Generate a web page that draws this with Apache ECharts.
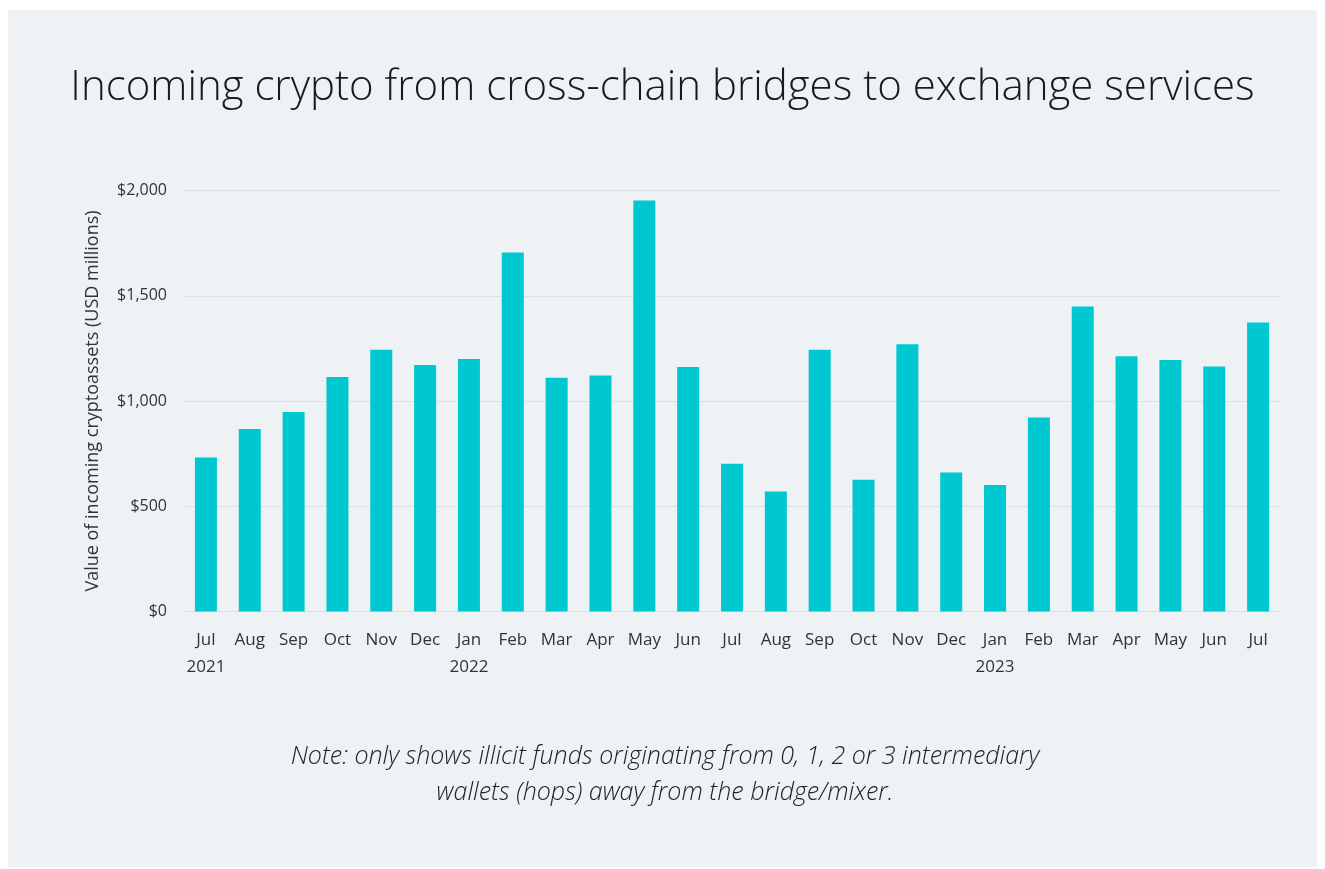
<!DOCTYPE html>
<html>
<head>
<meta charset="utf-8">
<script src="https://cdn.jsdelivr.net/npm/echarts@6/dist/echarts.min.js"></script>
<style>
  html, body { margin: 0; padding: 0; background: #ffffff; width: 1325px; height: 869px; overflow: hidden; }
  #chart { position: absolute; left: 8px; top: 10px; width: 1309px; height: 857px; background: #eef2f5; }
</style>
</head>
<body>
<div id="chart"></div>
<script>
const months = ['Jul','Aug','Sep','Oct','Nov','Dec','Jan','Feb','Mar','Apr','May','Jun',
                'Jul','Aug','Sep','Oct','Nov','Dec','Jan','Feb','Mar','Apr','May','Jun','Jul'];
const years = ['2021','','','','','','2022','','','','','',
               '','','','','','','2023','','','','','',''];
const values = [731, 867, 948, 1114, 1243, 1171, 1199, 1706, 1110, 1121, 1952, 1162,
                702, 570, 1243, 626, 1270, 660, 601, 922, 1449, 1213, 1195, 1164, 1373];
const yTicks = [0, 500, 1000, 1500, 2000];
const titleText = 'Incoming crypto from cross-chain bridges to exchange services';
const yAxisName = 'Value of incoming cryptoassets (USD millions)';
const noteLines = ['Note: only shows illicit funds originating from 0, 1, 2 or 3 intermediary',
                   'wallets (hops) away from the bridge/mixer.'];

const categories = months.map((m, i) => i);
const font = '"Open Sans", Lato, sans-serif';

const chart = echarts.init(document.getElementById('chart'), null, { renderer: 'canvas' });
chart.setOption({
  backgroundColor: 'transparent',
  animation: false,
  title: {
    text: titleText,
    left: 'center',
    top: 52,
    textStyle: { fontFamily: font, fontWeight: 300, fontSize: 42, color: '#1a1a1a' }
  },
  grid: { left: 176, right: 37, top: 180.5, bottom: 255.5, containLabel: false },
  xAxis: {
    type: 'category',
    data: categories,
    axisLine: { show: true, lineStyle: { color: '#dcdfe3', width: 1 } },
    axisTick: { show: false },
    axisLabel: {
      interval: 0,
      margin: 15,
      lineHeight: 27,
      fontFamily: font,
      fontSize: 17,
      color: '#333333',
      formatter: function (v) {
        const i = Number(v);
        return years[i] ? months[i] + '\n' + years[i] : months[i];
      }
    }
  },
  yAxis: {
    type: 'value',
    min: yTicks[0],
    max: yTicks[yTicks.length - 1],
    interval: 500,
    name: yAxisName,
    nameLocation: 'middle',
    nameGap: 82,
    nameRotate: 90,
    nameTextStyle: { fontFamily: font, fontSize: 18, color: '#333333' },
    axisLine: { show: false },
    axisTick: { show: false },
    splitLine: { lineStyle: { color: '#dcdfe3', width: 1 } },
    axisLabel: {
      margin: 17,
      fontFamily: font,
      fontSize: 16,
      color: '#333333',
      formatter: function (v) {
        return '$' + (v >= 1000 ? Math.floor(v / 1000) + ',' + String(v % 1000).padStart(3, '0') : v);
      }
    }
  },
  series: [{
    type: 'bar',
    data: values,
    barWidth: 22,
    itemStyle: { color: '#00c8d0' }
  }],
  graphic: [
    {
      type: 'text',
      x: 657,
      y: 747,
      style: {
        text: noteLines[0],
        textAlign: 'center',
        textVerticalAlign: 'middle',
        fontFamily: font,
        fontStyle: 'italic',
        fontWeight: 300,
        fontSize: 25,
        fill: '#222222'
      }
    },
    {
      type: 'text',
      x: 657,
      y: 783,
      style: {
        text: noteLines[1],
        textAlign: 'center',
        textVerticalAlign: 'middle',
        fontFamily: font,
        fontStyle: 'italic',
        fontWeight: 300,
        fontSize: 25,
        fill: '#222222'
      }
    }
  ]
});
</script>
</body>
</html>
